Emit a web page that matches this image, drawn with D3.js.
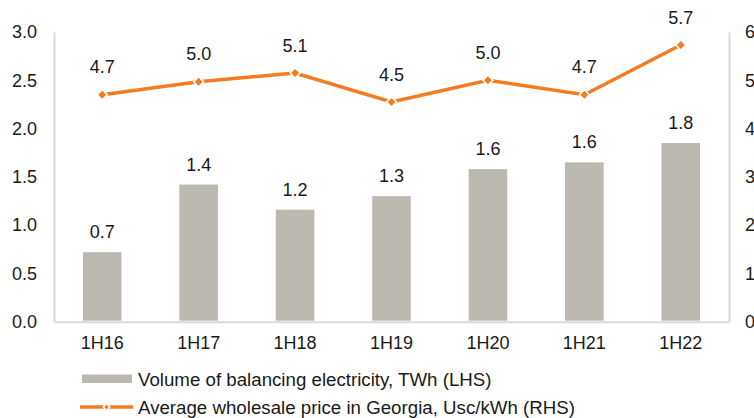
<!DOCTYPE html>
<html><head><meta charset="utf-8">
<script src="https://cdn.jsdelivr.net/npm/d3@7"></script>
<style>
html,body{margin:0;padding:0;background:#fff;}
svg{display:block;font-family:"Liberation Sans",Arial,sans-serif;}
</style></head>
<body>
<svg id="chart" width="754" height="418"></svg>
<script>
const categories = ["1H16","1H17","1H18","1H19","1H20","1H21","1H22"];
const volume = [0.72, 1.42, 1.16, 1.30, 1.58, 1.65, 1.85];
const volumeLabels = ["0.7","1.4","1.2","1.3","1.6","1.6","1.8"];
const price = [4.70, 4.97, 5.15, 4.55, 5.00, 4.70, 5.73];
const priceLabels = ["4.7","5.0","5.1","4.5","5.0","4.7","5.7"];
const leftTicks = [0, 0.5, 1.0, 1.5, 2.0, 2.5, 3.0];
const rightTicks = [0, 1, 2, 3, 4, 5, 6];
const legendNames = ["Volume of balancing electricity, TWh (LHS)", "Average wholesale price in Georgia, Usc/kWh (RHS)"];

const barColor = "#bbb8af", lineColor = "#f47b20", axisColor = "#d9d9d9", textColor = "#1a1a1a";
const FS = 18, LFS = 18.7;
const svg = d3.select("#chart");
const L = 54, R = 729, T = 32, B = 321.7;

const x = d3.scaleBand().domain(categories).range([L, R]).paddingInner(0.6).paddingOuter(0.3);
const yL = d3.scaleLinear().domain([0, 3]).range([B, T]);
const yR = d3.scaleLinear().domain([0, 6]).range([B, T]);

// axes
const axL = svg.append("g").attr("transform", `translate(${L},0)`)
  .call(d3.axisLeft(yL).tickValues(leftTicks).tickFormat(d3.format(".1f")).tickSize(0).tickPadding(17));
const axR = svg.append("g").attr("transform", `translate(${R},0)`)
  .call(d3.axisRight(yR).tickValues(rightTicks).tickFormat(d3.format("d")).tickSize(0).tickPadding(16));
const axB = svg.append("g").attr("transform", `translate(0,${B})`)
  .call(d3.axisBottom(x).tickSize(0).tickPadding(15));
[axL, axR, axB].forEach(a => {
  a.select(".domain").attr("stroke", axisColor).attr("stroke-width", 2);
  a.selectAll("text").attr("fill", textColor).attr("font-size", FS)
    .attr("font-family", "'Liberation Sans', Arial, sans-serif");
});

// bars
svg.append("g").selectAll("rect").data(volume).join("rect")
  .attr("x", (d, i) => x(categories[i]))
  .attr("width", x.bandwidth())
  .attr("y", d => yL(d))
  .attr("height", d => B - 1 - yL(d))
  .attr("fill", barColor);

svg.append("g").selectAll("text").data(volume).join("text")
  .attr("x", (d, i) => x(categories[i]) + x.bandwidth() / 2)
  .attr("y", d => yL(d) - 14)
  .attr("text-anchor", "middle").attr("font-size", FS).attr("fill", textColor)
  .text((d, i) => volumeLabels[i]);

// line
const cx = c => x(c) + x.bandwidth() / 2;
svg.append("path").datum(price)
  .attr("d", d3.line().x((d, i) => cx(categories[i])).y(d => yR(d)))
  .attr("fill", "none").attr("stroke", lineColor).attr("stroke-width", 3.5);

const marker = d3.symbol().type(d3.symbolSquare).size(50);
svg.append("g").selectAll("path").data(price).join("path")
  .attr("d", marker)
  .attr("transform", (d, i) => `translate(${cx(categories[i])},${yR(d)}) rotate(45)`)
  .attr("fill", lineColor).attr("stroke", "#fff").attr("stroke-width", 1.5);

svg.append("g").selectAll("text").data(price).join("text")
  .attr("x", (d, i) => cx(categories[i]))
  .attr("y", d => yR(d) - 21.5)
  .attr("text-anchor", "middle").attr("font-size", FS).attr("fill", textColor)
  .text((d, i) => priceLabels[i]);

// legend
const lg = svg.append("g");
lg.append("rect").attr("x", 82).attr("y", 374.5).attr("width", 50).attr("height", 8.5).attr("fill", barColor);
lg.append("text").attr("x", 138).attr("y", 385.5).attr("font-size", LFS).attr("fill", textColor).text(legendNames[0]);
lg.append("line").attr("x1", 80).attr("x2", 133).attr("y1", 407).attr("y2", 407)
  .attr("stroke", lineColor).attr("stroke-width", 3.5);
lg.append("path").attr("d", d3.symbol().type(d3.symbolSquare).size(22))
  .attr("transform", "translate(106.5,407) rotate(45)").attr("fill", lineColor).attr("stroke", "#fff").attr("stroke-width", 1.5);
lg.append("text").attr("x", 138).attr("y", 413.5).attr("font-size", LFS).attr("fill", textColor).text(legendNames[1]);
</script>
</body></html>
